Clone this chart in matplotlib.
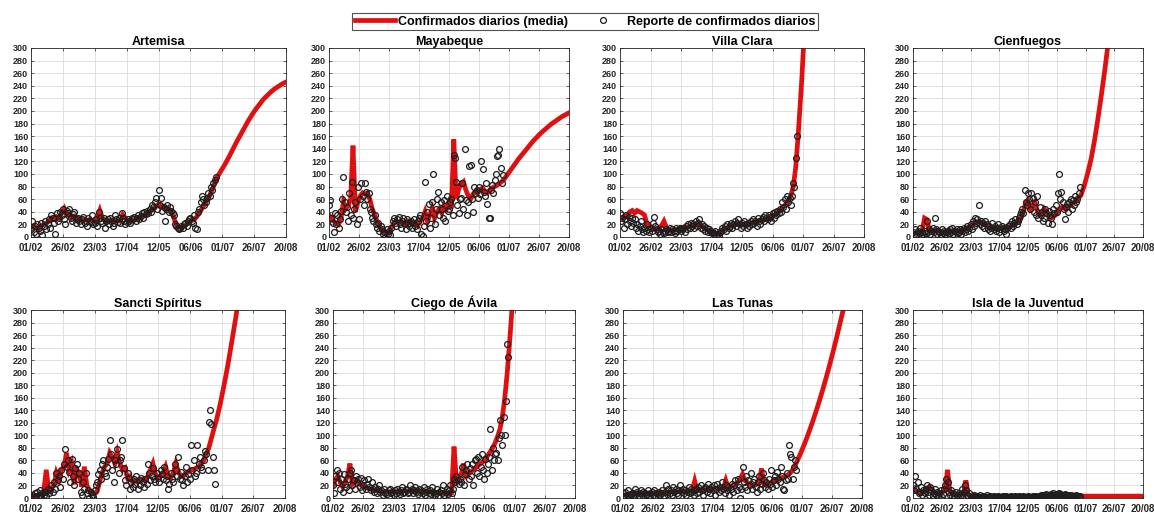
import numpy as np
import matplotlib
matplotlib.use('Agg')
import matplotlib.pyplot as plt
from matplotlib.lines import Line2D

plt.rcParams['font.family'] = ['Liberation Sans', 'DejaVu Sans']

# Etiquetas del eje x (cada 25 dias desde el 01/02)
fechas = ['01/02', '26/02', '23/03', '17/04', '12/05', '06/06', '01/07', '26/07', '20/08']

# Reportes diarios (un valor por dia desde el 01/02)
artemisa_pts = [12, 25, 8, 18, 5, 20, 15, 10, 22, 3,
                18, 25, 12, 20, 28, 15, 35, 30, 22, 5,
                38, 25, 30, 40, 35, 45, 28, 20, 42, 38,
                44, 30, 25, 36, 40, 22, 28, 30, 25, 20,
                28, 32, 22, 26, 18, 30, 25, 24, 35, 20,
                22, 28, 18, 40, 30, 25, 22, 30, 15, 25,
                28, 20, 30, 26, 18, 22, 35, 28, 24, 30,
                22, 38, 30, 25, 20, 24, 28, 26, 22, 30,
                28, 32, 25, 30, 35, 28, 33, 38, 30, 40,
                36, 42, 38, 45, 40, 50, 48, 55, 62, 45,
                75, 50, 62, 42, 48, 25, 45, 50, 40, 48,
                42, 38, 35, 20, 18, 15, 12, 15, 18, 14,
                20, 22, 18, 25, 28, 30, 25, 22, 35, 15,
                12, 40, 45, 55, 65, 60, 50, 55, 62, 70,
                65, 80, 75, 85, 90, 95]
mayabeque_pts = [50, 58, 30, 22, 8, 38, 20, 35, 15, 28,
                 42, 60, 95, 55, 40, 48, 25, 70, 35, 88,
                 30, 45, 55, 20, 80, 28, 60, 85, 65, 50,
                 85, 72, 60, 70, 45, 40, 30, 25, 35, 20,
                 15, 22, 10, 18, 12, 5, 8, 0, 12, 5,
                 10, 3, 15, 25, 30, 22, 18, 28, 32, 20,
                 15, 25, 30, 20, 12, 28, 22, 18, 25, 15,
                 22, 28, 18, 12, 25, 30, 35, 5, 2, 18,
                 88, 25, 40, 52, 15, 30, 55, 100, 20, 45,
                 60, 72, 35, 55, 45, 30, 58, 25, 65, 42,
                 45, 55, 60, 35, 130, 125, 88, 50, 38, 60,
                 62, 85, 45, 140, 58, 35, 55, 112, 115, 60,
                 40, 80, 70, 75, 62, 80, 68, 120, 108, 72,
                 65, 85, 52, 30, 30, 75, 82, 70, 90, 100,
                 128, 130, 140, 110, 85, 98]
villaclara_pts = [38, 25, 30, 15, 28, 35, 20, 32, 25, 18,
                  30, 22, 28, 15, 20, 10, 18, 25, 12, 8,
                  15, 10, 20, 12, 8, 15, 10, 22, 32, 18,
                  12, 8, 10, 5, 12, 8, 6, 10, 12, 8,
                  10, 15, 8, 12, 10, 6, 14, 10, 12, 15,
                  10, 12, 15, 8, 18, 12, 20, 15, 22, 18,
                  20, 15, 25, 18, 22, 28, 15, 20, 12, 18,
                  10, 15, 8, 12, 10, 6, 8, 5, 10, 3,
                  5, 2, 8, 10, 15, 12, 18, 10, 20, 15,
                  18, 22, 15, 20, 25, 18, 22, 28, 20, 15,
                  22, 18, 25, 20, 15, 22, 18, 25, 20, 28,
                  22, 25, 18, 30, 25, 20, 28, 32, 25, 35,
                  30, 28, 35, 32, 25, 38, 30, 40, 35, 42,
                  38, 45, 40, 55, 48, 60, 45, 65, 55, 62,
                  50, 65, 85, 80, 125, 160]
cienfuegos_pts = [8, 5, 12, 3, 10, 6, 15, 2, 8, 4,
                  10, 6, 25, 8, 12, 5, 10, 15, 8, 30,
                  12, 5, 10, 8, 3, 12, 6, 10, 5, 8,
                  10, 6, 12, 8, 15, 5, 10, 8, 12, 6,
                  8, 12, 5, 10, 15, 8, 12, 18, 10, 15,
                  20, 12, 25, 18, 30, 22, 28, 50, 20, 25,
                  18, 22, 15, 25, 20, 12, 18, 10, 15, 22,
                  12, 18, 10, 15, 20, 8, 12, 18, 15, 10,
                  12, 5, 15, 18, 20, 15, 25, 18, 22, 28,
                  20, 25, 30, 35, 40, 45, 38, 75, 55, 50,
                  70, 60, 45, 70, 62, 40, 55, 35, 65, 30,
                  48, 35, 40, 25, 30, 45, 38, 22, 42, 35,
                  30, 20, 45, 38, 50, 40, 70, 100, 60, 72,
                  55, 45, 28, 48, 52, 40, 55, 60, 45, 58,
                  50, 65, 55, 60, 70, 80]
sancti_pts = [2, 5, 0, 8, 3, 10, 5, 12, 2, 8,
              5, 10, 3, 15, 8, 12, 20, 10, 25, 15,
              40, 28, 35, 18, 45, 30, 55, 78, 50, 60,
              42, 25, 62, 35, 20, 48, 55, 30, 40, 10,
              5, 25, 15, 40, 8, 12, 0, 10, 5, 2,
              12, 20, 25, 38, 45, 30, 55, 60, 40, 35,
              50, 62, 93, 70, 45, 25, 60, 55, 78, 40,
              60, 65, 92, 48, 28, 20, 40, 32, 15, 25,
              18, 30, 22, 35, 15, 28, 20, 32, 25, 18,
              30, 22, 55, 40, 28, 35, 48, 30, 25, 40,
              32, 25, 45, 38, 30, 50, 28, 35, 15, 22,
              40, 30, 25, 55, 45, 35, 65, 30, 42, 28,
              20, 35, 50, 25, 38, 30, 85, 45, 60, 35,
              40, 85, 55, 65, 50, 45, 60, 75, 70, 45,
              122, 140, 118, 65, 45, 22]
ciego_pts = [20, 8, 35, 45, 25, 40, 15, 30, 10, 38,
             22, 18, 30, 12, 40, 45, 20, 28, 15, 35,
             25, 30, 18, 32, 12, 20, 28, 15, 22, 30,
             18, 12, 25, 15, 10, 18, 8, 14, 20, 10,
             12, 5, 15, 8, 10, 6, 12, 15, 8, 10,
             5, 12, 8, 15, 10, 6, 12, 18, 8, 10,
             15, 12, 8, 10, 20, 14, 8, 12, 18, 10,
             6, 15, 10, 12, 8, 18, 5, 10, 15, 8,
             12, 6, 18, 10, 5, 8, 15, 3, 10, 12,
             8, 20, 5, 10, 15, 6, 12, 20, 8, 15,
             30, 25, 35, 28, 22, 30, 25, 50, 20, 38,
             45, 55, 30, 48, 35, 55, 20, 60, 62, 40,
             65, 35, 50, 70, 45, 30, 62, 40, 55, 65,
             110, 45, 80, 60, 70, 72, 60, 95, 125, 100,
             85, 130, 100, 155, 245, 225]
lastunas_pts = [8, 3, 10, 5, 12, 2, 6, 4, 8, 3,
                15, 6, 10, 3, 8, 12, 5, 10, 8, 4,
                6, 12, 3, 8, 10, 5, 12, 2, 8, 6,
                10, 4, 8, 12, 3, 10, 20, 6, 15, 8,
                12, 5, 18, 10, 15, 8, 5, 12, 20, 10,
                15, 8, 12, 5, 10, 18, 8, 15, 10, 5,
                12, 15, 8, 18, 10, 20, 12, 5, 15, 18,
                10, 22, 15, 8, 18, 12, 20, 5, 15, 22,
                10, 18, 12, 25, 15, 8, 20, 12, 18, 5,
                15, 22, 10, 20, 28, 12, 30, 18, 0, 15,
                50, 25, 18, 35, 12, 28, 20, 40, 15, 25,
                30, 18, 10, 25, 35, 15, 22, 40, 28, 18,
                25, 15, 30, 22, 45, 18, 28, 35, 20, 42,
                30, 25, 50, 35, 15, 12, 28, 40, 30, 85,
                70, 65, 30, 50, 60, 45]
isla_pts = [20, 12, 35, 15, 25, 8, 10, 18, 5, 12,
            8, 15, 20, 10, 5, 18, 12, 3, 8, 15,
            5, 10, 3, 8, 12, 2, 6, 15, 20, 30,
            25, 10, 5, 12, 3, 8, 2, 10, 5, 3,
            8, 2, 5, 15, 10, 20, 12, 5, 3, 8,
            2, 1, 3, 5, 2, 1, 3, 2, 4, 1,
            2, 3, 1, 2, 4, 2, 1, 3, 2, 1,
            3, 2, 1, 2, 3, 1, 2, 2, 3, 1,
            2, 3, 2, 1, 2, 3, 2, 1, 2, 3,
            2, 1, 3, 2, 2, 1, 3, 2, 1, 2,
            3, 2, 1, 2, 3, 2, 2, 3, 1, 2,
            3, 4, 2, 5, 3, 4, 6, 3, 5, 4,
            6, 5, 8, 4, 7, 6, 5, 8, 6, 4,
            5, 3, 6, 4, 3, 5, 2, 4, 3, 2,
            3, 2, 4, 3, 2, 3]

# Media de confirmados (cada 2 dias, dias 0..146)
artemisa_media = [15, 18, 15, 12, 18, 20, 22, 25, 30, 28,
                  32, 30, 38, 45, 35, 35, 30, 33, 30, 28,
                  28, 27, 26, 28, 26, 25, 30, 42, 30, 27,
                  25, 26, 24, 25, 26, 25, 35, 30, 26, 25,
                  27, 28, 30, 32, 33, 35, 38, 42, 45, 48,
                  52, 50, 48, 45, 45, 40, 30, 20, 16, 15,
                  18, 20, 23, 26, 28, 32, 38, 45, 52, 58,
                  65, 75, 85, 95]
mayabeque_media = [35, 30, 25, 22, 20, 30, 55, 45, 50, 60,
                   145, 40, 55, 65, 70, 68, 70, 60, 45, 35,
                   25, 18, 10, 8, 5, 8, 15, 22, 25, 22,
                   25, 22, 20, 25, 22, 20, 22, 18, 25, 30,
                   40, 25, 35, 45, 30, 40, 45, 38, 50, 45,
                   55, 45, 155, 60, 75, 85, 88, 75, 65, 60,
                   68, 72, 70, 75, 78, 72, 70, 75, 78, 80,
                   82, 85, 88, 92]
villaclara_media = [30, 30, 32, 35, 40, 42, 38, 42, 40, 38,
                    35, 22, 18, 15, 12, 12, 14, 18, 25, 15,
                    10, 11, 11, 12, 12, 13, 14, 15, 16, 18,
                    19, 20, 22, 20, 16, 13, 11, 9, 8, 6,
                    5, 6, 10, 13, 15, 17, 18, 19, 20, 21,
                    20, 20, 20, 21, 22, 23, 24, 25, 26, 27,
                    28, 30, 32, 34, 36, 40, 44, 48, 52, 58,
                    65, 80, 110, 160]
cienfuegos_media = [5, 6, 7, 8, 10, 30, 28, 12, 10, 10,
                    11, 10, 9, 8, 8, 9, 9, 10, 10, 10,
                    10, 11, 12, 13, 15, 18, 20, 22, 24, 25,
                    22, 20, 18, 16, 15, 14, 13, 13, 14, 14,
                    15, 15, 16, 18, 20, 22, 25, 30, 40, 55,
                    58, 45, 50, 55, 42, 35, 38, 45, 40, 35,
                    30, 32, 35, 40, 45, 48, 45, 48, 50, 52,
                    55, 58, 62, 66]
sancti_media = [2, 3, 4, 5, 7, 10, 45, 12, 15, 20,
                40, 30, 45, 50, 72, 45, 55, 22, 45, 40,
                18, 50, 20, 12, 8, 6, 10, 25, 40, 50,
                55, 72, 65, 55, 72, 55, 45, 48, 32, 35,
                25, 28, 25, 28, 30, 28, 35, 45, 55, 38,
                32, 35, 40, 50, 35, 32, 40, 55, 42, 35,
                35, 40, 42, 45, 45, 48, 50, 55, 60, 70,
                80, 95, 110, 124]
ciego_media = [20, 30, 35, 25, 18, 25, 35, 55, 22, 25,
               28, 22, 20, 18, 16, 15, 14, 13, 12, 11,
               10, 10, 10, 10, 10, 10, 10, 10, 11, 11,
               11, 11, 12, 12, 12, 11, 11, 11, 10, 10,
               10, 9, 9, 8, 8, 8, 7, 7, 6, 8,
               82, 28, 32, 38, 55, 35, 38, 42, 45, 48,
               52, 55, 58, 62, 68, 74, 80, 88, 98, 110,
               130, 160, 200, 250]
lastunas_media = [5, 5, 6, 6, 7, 7, 7, 7, 7, 7,
                  7, 7, 7, 7, 7, 8, 8, 8, 9, 9,
                  10, 10, 10, 10, 10, 10, 11, 11, 12, 12,
                  27, 12, 12, 12, 13, 13, 14, 14, 15, 15,
                  16, 16, 16, 28, 16, 18, 20, 22, 25, 30,
                  38, 28, 25, 22, 20, 20, 22, 28, 47, 22,
                  20, 22, 25, 28, 30, 30, 32, 33, 35, 37,
                  40, 45, 52, 60]
isla_media = [15, 12, 10, 8, 8, 12, 15, 18, 15, 10,
              8, 6, 8, 10, 12, 45, 12, 8, 6, 5,
              5, 6, 8, 28, 5, 3, 3, 3, 3, 3,
              3, 3, 3, 3, 3, 3, 3, 3, 3, 3,
              3, 3, 3, 3, 3, 3, 3, 3, 3, 3,
              3, 3, 3, 3, 3, 3, 3, 3, 3, 3,
              3, 3, 3, 3, 3, 3, 3, 3, 3, 3,
              3, 3, 3, 3]

# Proyeccion (cada 3 dias, dias 146..200)
artemisa_proy = [95, 105, 115, 126, 138, 150, 161, 172, 183, 193,
                 202, 210, 218, 224, 230, 235, 239, 243, 246]
mayabeque_proy = [92, 100, 108, 116, 124, 131, 138, 145, 152, 158,
                  164, 169, 174, 179, 183, 187, 191, 194, 197]
villaclara_proy = [160, 250, 360, 500, 650, 850, 1100, 1400, 1800, 2300,
                   2900, 3600, 4500, 5600, 7000, 8700, 10800, 13400, 16600]
cienfuegos_proy = [66, 82, 102, 125, 155, 190, 228, 268, 312, 360,
                   410, 470, 530, 600, 670, 750, 830, 920, 1010]
sancti_proy = [124, 150, 180, 212, 248, 285, 325, 370, 420, 475,
               535, 600, 670, 750, 840, 940, 1050, 1170, 1300]
ciego_proy = [250, 330, 430, 560, 720, 920, 1170, 1480, 1870, 2350,
              2950, 3700, 4600, 5700, 7100, 8800, 10900, 13500, 16700]
lastunas_proy = [60, 73, 87, 102, 118, 135, 153, 172, 192, 213,
                 235, 258, 282, 306, 332, 358, 385, 413, 442]
isla_proy = [3, 3, 3, 3, 3, 3, 3, 3, 3, 3,
             3, 3, 3, 3, 3, 3, 3, 3, 3]

provincias = [
    ('Artemisa', artemisa_pts, artemisa_media, artemisa_proy),
    ('Mayabeque', mayabeque_pts, mayabeque_media, mayabeque_proy),
    ('Villa Clara', villaclara_pts, villaclara_media, villaclara_proy),
    ('Cienfuegos', cienfuegos_pts, cienfuegos_media, cienfuegos_proy),
    ('Sancti Spíritus', sancti_pts, sancti_media, sancti_proy),
    ('Ciego de Ávila', ciego_pts, ciego_media, ciego_proy),
    ('Las Tunas', lastunas_pts, lastunas_media, lastunas_proy),
    ('Isla de la Juventud', isla_pts, isla_media, isla_proy),
]

# posiciones de los ejes en pixeles (izq, der, arriba, abajo)
W, H = 1154, 520
cajas = [(31, 286, 48, 237), (329, 569, 48, 237), (620, 864, 48, 237), (913, 1143, 48, 237),
         (31, 285, 310, 498), (333, 575, 310, 498), (623, 862, 310, 498), (913, 1143, 310, 498)]

rojo = '#e01010'
fig = plt.figure(figsize=(W / 100, H / 100), dpi=100)

for (nombre, pts, media, proy), (x0, x1, y0, y1) in zip(provincias, cajas):
    ax = fig.add_axes([x0 / W, 1 - y1 / H, (x1 - x0) / W, (y1 - y0) / H])
    dias_m = np.arange(0, 147, 2)
    dias_p = np.arange(146, 201, 3)
    ax.plot(np.concatenate([dias_m, dias_p]), media + proy, color=rojo, lw=3.4,
            solid_joinstyle='miter', zorder=2)
    ax.plot(np.arange(len(pts)), pts, 'o', ms=4.2, mfc='none', mec='#1e1e1e',
            mew=0.9, zorder=3)
    ax.set_xlim(0, 200)
    ax.set_ylim(0, 300)
    ax.set_xticks(np.arange(0, 201, 25))
    ax.set_xticklabels(fechas)
    ax.set_yticks(np.arange(0, 301, 20))
    ax.tick_params(direction='in', length=2, width=0.5, top=True, right=True,
                   colors='#262626')
    ax.tick_params(axis='x', labelsize=7, pad=4.5)
    ax.tick_params(axis='y', labelsize=6.5, pad=2)
    for lab in ax.get_xticklabels() + ax.get_yticklabels():
        lab.set_fontweight('bold')
    ax.grid(True, color='#dcdcdc', lw=0.6)
    ax.set_axisbelow(True)
    for s in ax.spines.values():
        s.set_color('#262626')
        s.set_linewidth(0.6)
    ax.set_title(nombre, fontsize=9, fontweight='bold', pad=2)

handles = [Line2D([], [], color=rojo, lw=3.4),
           Line2D([], [], ls='none', marker='o', ms=4.2, mfc='none', mec='#1e1e1e', mew=0.9)]
leg = fig.legend(handles, ['Confirmados diarios (media)', 'Reporte de confirmados diarios'],
                 loc='upper center', bbox_to_anchor=(585 / W, 1 - 7 / H), ncol=2,
                 prop={'size': 9, 'weight': 'bold'}, frameon=True, fancybox=False,
                 edgecolor='#262626', borderpad=0.2, handlelength=3.2, handletextpad=0.3,
                 columnspacing=1.2)
leg.get_frame().set_linewidth(0.8)

fig.savefig('out.png', dpi=100)
